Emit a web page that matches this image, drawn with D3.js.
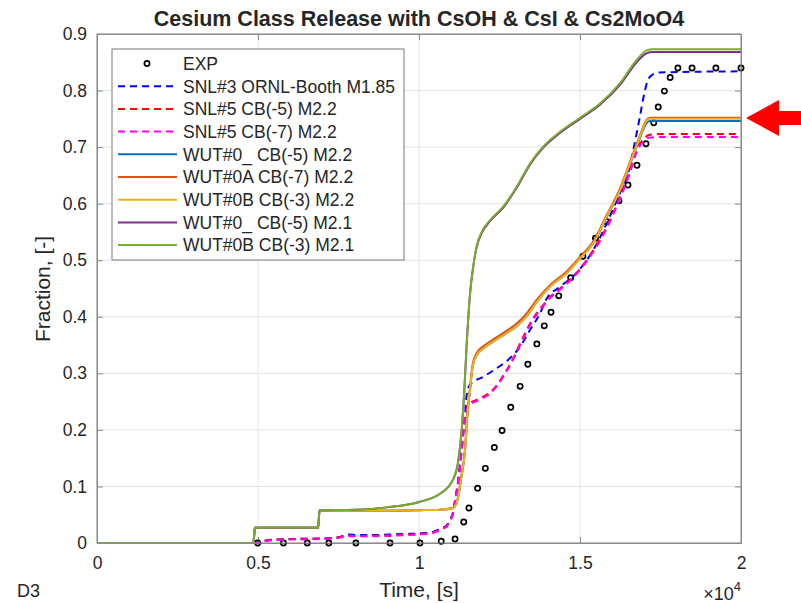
<!DOCTYPE html>
<html><head><meta charset="utf-8">
<script src="https://cdn.jsdelivr.net/npm/d3@7"></script>
<style>body{margin:0;background:#fff}svg{display:block}text{font-family:"Liberation Sans",Arial,Helvetica,sans-serif;fill:#262626}</style>
</head><body>
<svg id="c" width="801" height="603"></svg>
<script>
const titleText = "Cesium Class Release with CsOH & CsI & Cs2MoO4";
const xLabel = "Time, [s]";
const yLabel = "Fraction, [-]";
const xTicks = [0, 5000, 10000, 15000, 20000];
const xTickLabels = ["0", "0.5", "1", "1.5", "2"];
const yTicks = [0, 0.1, 0.2, 0.3, 0.4, 0.5, 0.6, 0.7, 0.8, 0.9];
const yTickLabels = ["0", "0.1", "0.2", "0.3", "0.4", "0.5", "0.6", "0.7", "0.8", "0.9"];
const seriesNames = ["EXP", "SNL#3 ORNL-Booth M1.85", "SNL#5 CB(-5) M2.2", "SNL#5 CB(-7) M2.2",
  "WUT#0_ CB(-5) M2.2", "WUT#0A CB(-7) M2.2", "WUT#0B CB(-3) M2.2", "WUT#0_ CB(-5) M2.1", "WUT#0B CB(-3) M2.1"];

const expTime = [4990, 5790, 6530, 7200, 8040, 9100, 10030, 10690, 11120, 11390, 11550, 11820, 12060, 12340, 12580,
  12850, 13140, 13380, 13660, 13890, 14100, 14340, 14710, 15090, 15480, 15830, 16210, 16490, 16770, 17050, 17290,
  17430, 17620, 17800, 18040, 18480, 19220, 20000];
const expFrac = [0, 0, 0, 0, 0, 0, 0, 0.003, 0.007, 0.037, 0.062, 0.097, 0.132, 0.169, 0.199,
  0.240, 0.277, 0.316, 0.352, 0.384, 0.408, 0.437, 0.469, 0.507, 0.539, 0.568, 0.605, 0.633, 0.668, 0.706, 0.743,
  0.771, 0.799, 0.823, 0.840, 0.840, 0.840, 0.840];

const snl3 = [[0,0],[4950,0],[5200,0.004],[5500,0.006],[6000,0.007],[7000,0.008],[7500,0.010],[7800,0.015],[8100,0.014],[8600,0.014],[9100,0.015],[9600,0.016],[10000,0.017],[10450,0.020],[10650,0.025],[10860,0.031],[10960,0.041],[11065,0.056],[11120,0.076],[11220,0.112],[11325,0.168],[11430,0.228],[11480,0.262],[11584,0.280],[12000,0.294],[12410,0.309],[12830,0.327],[13140,0.347],[13450,0.377],[13760,0.406],[13965,0.432],[14380,0.453],[14900,0.478],[15410,0.518],[15830,0.565],[16250,0.620],[16450,0.645],[16656,0.695],[16860,0.754],[17020,0.801],[17110,0.819],[17250,0.828],[17480,0.832],[20000,0.834]];
const snl5a = [[0,0],[4950,0],[5200,0.004],[5500,0.006],[6000,0.007],[7000,0.008],[7500,0.010],[7800,0.013],[8100,0.012],[8600,0.013],[9100,0.013],[9600,0.015],[10000,0.016],[10450,0.019],[10650,0.024],[10860,0.030],[10960,0.040],[11065,0.055],[11120,0.075],[11220,0.110],[11325,0.165],[11430,0.222],[11532,0.245],[11791,0.253],[12000,0.259],[12205,0.266],[12400,0.278],[12618,0.296],[12929,0.327],[13240,0.365],[13550,0.398],[13860,0.421],[14068,0.435],[14380,0.450],[14900,0.478],[15414,0.518],[15829,0.559],[16242,0.612],[16553,0.659],[16760,0.695],[16966,0.714],[17174,0.722],[17500,0.723],[20000,0.723]];
const snl5b = [[0,0],[4950,0],[5200,0.003],[5500,0.005],[6000,0.006],[7000,0.007],[7500,0.009],[7800,0.012],[8100,0.012],[8600,0.012],[9100,0.013],[9600,0.014],[10000,0.015],[10450,0.018],[10650,0.023],[10860,0.029],[10960,0.039],[11065,0.053],[11120,0.073],[11220,0.108],[11325,0.162],[11430,0.220],[11532,0.243],[11791,0.251],[12000,0.257],[12205,0.264],[12400,0.276],[12618,0.294],[12929,0.325],[13240,0.362],[13550,0.395],[13860,0.419],[14068,0.433],[14380,0.448],[14900,0.476],[15414,0.515],[15829,0.556],[16242,0.609],[16553,0.655],[16760,0.691],[16966,0.710],[17174,0.717],[17500,0.718],[20000,0.718]];
const wut0_22 = [[0,0],[4860,0],[4900,0.027],[6870,0.027],[6910,0.058],[8000,0.057],[9000,0.057],[10000,0.058],[10650,0.059],[11000,0.061],[11100,0.064],[11220,0.082],[11300,0.111],[11430,0.164],[11500,0.223],[11584,0.270],[11667,0.312],[11791,0.332],[12000,0.344],[12308,0.356],[12720,0.371],[13034,0.383],[13345,0.401],[13655,0.426],[14068,0.453],[14586,0.477],[15000,0.503],[15414,0.530],[15829,0.576],[16242,0.623],[16553,0.670],[16863,0.716],[17050,0.741],[17174,0.746],[17400,0.746],[20000,0.746]];
const wut0A_22 = [[0,0],[4860,0],[4900,0.027],[6870,0.027],[6910,0.058],[8000,0.057],[9000,0.057],[10000,0.058],[10650,0.059],[11000,0.061],[11100,0.064],[11220,0.083],[11300,0.113],[11430,0.167],[11500,0.227],[11584,0.274],[11667,0.316],[11791,0.336],[12000,0.348],[12308,0.360],[12720,0.375],[13034,0.388],[13345,0.406],[13655,0.430],[14068,0.456],[14586,0.480],[15000,0.506],[15414,0.533],[15829,0.580],[16242,0.627],[16553,0.674],[16863,0.721],[17050,0.747],[17174,0.752],[17400,0.752],[20000,0.752]];
const wut0B_22 = [[0,0],[4860,0],[4900,0.027],[6870,0.027],[6910,0.058],[8000,0.057],[9000,0.057],[10000,0.058],[10650,0.059],[11000,0.061],[11100,0.064],[11220,0.082],[11300,0.111],[11430,0.164],[11500,0.223],[11584,0.270],[11667,0.312],[11791,0.332],[12000,0.344],[12308,0.356],[12720,0.371],[13034,0.383],[13345,0.401],[13655,0.426],[14068,0.453],[14586,0.477],[15000,0.503],[15414,0.530],[15829,0.577],[16242,0.624],[16553,0.671],[16863,0.718],[17050,0.745],[17174,0.750],[17400,0.750],[20000,0.750]];
const wut0_21 = [[0,0],[4860,0],[4900,0.027],[6870,0.027],[6910,0.058],[8000,0.059],[9000,0.063],[10031,0.073],[10652,0.087],[11065,0.113],[11220,0.145],[11326,0.200],[11407,0.270],[11480,0.350],[11584,0.440],[11687,0.490],[11791,0.523],[11947,0.548],[12205,0.569],[12618,0.593],[13034,0.628],[13447,0.669],[13860,0.699],[14379,0.725],[15000,0.750],[15621,0.775],[16242,0.810],[16760,0.850],[17071,0.866],[17250,0.868],[20000,0.868]];
const wut0B_21 = [[0,0],[4860,0],[4900,0.027],[6870,0.027],[6910,0.058],[8000,0.059],[9000,0.063],[10031,0.073],[10652,0.087],[11065,0.113],[11220,0.145],[11326,0.200],[11407,0.270],[11480,0.350],[11584,0.440],[11687,0.490],[11791,0.525],[11947,0.550],[12205,0.571],[12618,0.595],[13034,0.630],[13447,0.671],[13860,0.701],[14379,0.727],[15000,0.752],[15621,0.777],[16242,0.813],[16760,0.854],[17071,0.871],[17250,0.873],[20000,0.873]];

const lineSeries = [snl3, snl5a, snl5b, wut0_22, wut0A_22, wut0B_22, wut0_21, wut0B_21];
const lineColors = ["#0000ff", "#ff0000", "#ff00ff", "#0072bd", "#d95319", "#edb120", "#7e2f8e", "#77ac30"];
const lineDashed = [true, true, true, false, false, false, false, false];

const svg = d3.select("#c");
const L = 97, R = 741, T = 34, B = 543;
const x = d3.scaleLinear().domain([0, 20000]).range([L, R]);
const y = d3.scaleLinear().domain([0, 0.9]).range([B, T]);

// grid
const g = svg.append("g");
g.selectAll(".gx").data(xTicks).join("line").attr("x1", d => x(d)).attr("x2", d => x(d)).attr("y1", T).attr("y2", B)
  .attr("stroke", "#e3e3e3").attr("stroke-width", 1);
g.selectAll(".gy").data(yTicks).join("line").attr("y1", d => y(d)).attr("y2", d => y(d)).attr("x1", L).attr("x2", R)
  .attr("stroke", "#e3e3e3").attr("stroke-width", 1);

// axes via d3
const axB = svg.append("g").attr("transform", `translate(0,${B})`)
  .call(d3.axisBottom(x).tickValues(xTicks).tickFormat((d, i) => xTickLabels[i]).tickSizeInner(-6).tickSizeOuter(0).tickPadding(14));
const axL = svg.append("g").attr("transform", `translate(${L},0)`)
  .call(d3.axisLeft(y).tickValues(yTicks).tickFormat((d, i) => yTickLabels[i]).tickSizeInner(-6).tickSizeOuter(0).tickPadding(10));
const axT = svg.append("g").attr("transform", `translate(0,${T})`)
  .call(d3.axisTop(x).tickValues(xTicks).tickFormat("").tickSizeInner(-6).tickSizeOuter(0));
const axR = svg.append("g").attr("transform", `translate(${R},0)`)
  .call(d3.axisRight(y).tickValues(yTicks).tickFormat("").tickSizeInner(-6).tickSizeOuter(0));
[axB, axL, axT, axR].forEach(a => {
  a.select(".domain").attr("stroke", "#8a8a8a");
  a.selectAll(".tick line").attr("stroke", "#8a8a8a");
  a.selectAll("text").attr("font-size", 17.5).attr("fill", "#262626").attr("font-family", "Liberation Sans, Arial, sans-serif");
});
axB.selectAll(".tick").filter(d => d === 0 || d === 20000).select("line").remove();
axT.selectAll(".tick").filter(d => d === 0 || d === 20000).select("line").remove();

// lines
const lineGen = d3.line().x(d => x(d[0])).y(d => y(d[1])).curve(d3.curveMonotoneX);
const plot = svg.append("g");
plot.selectAll(".exp").data(expTime.map((t, i) => [t, expFrac[i]])).join("circle")
  .attr("cx", d => x(d[0])).attr("cy", d => y(d[1])).attr("r", 2.6)
  .attr("fill", "none").attr("stroke", "#000").attr("stroke-width", 1.7);
lineSeries.forEach((s, i) => {
  plot.append("path").datum(s).attr("d", lineGen).attr("fill", "none")
    .attr("stroke", lineColors[i]).attr("stroke-width", 2)
    .attr("stroke-dasharray", lineDashed[i] ? "7,5" : null);
});

svg.append("rect").attr("x", L).attr("y", T).attr("width", R - L).attr("height", B - T)
  .attr("fill", "none").attr("stroke", "#8a8a8a").attr("stroke-width", 1);

// legend
const lg = svg.append("g");
const lx = 112, ly = 49, lw = 292, lh = 211, step = 22.7, firstY = 63.5;
lg.append("rect").attr("x", lx).attr("y", ly).attr("width", lw).attr("height", lh)
  .attr("fill", "#fff").attr("stroke", "#7a7a7a").attr("stroke-width", 1);
seriesNames.forEach((name, i) => {
  const yy = firstY + i * step;
  if (i === 0) {
    lg.append("circle").attr("cx", 147).attr("cy", yy).attr("r", 2.6).attr("fill", "none").attr("stroke", "#000").attr("stroke-width", 1.7);
  } else {
    lg.append("line").attr("x1", 118).attr("x2", 177).attr("y1", yy).attr("y2", yy)
      .attr("stroke", lineColors[i - 1]).attr("stroke-width", 2)
      .attr("stroke-dasharray", lineDashed[i - 1] ? "7,5" : null);
  }
  lg.append("text").attr("x", 183).attr("y", yy).attr("dy", "0.36em").attr("font-size", 17.5).text(name);
});

// titles
svg.append("text").attr("x", 419).attr("y", 26).attr("text-anchor", "middle").attr("font-size", 21.5)
  .attr("font-weight", "bold").attr("fill", "#000").text(titleText);
svg.append("text").attr("x", 419).attr("y", 597).attr("text-anchor", "middle").attr("font-size", 21).text(xLabel);
svg.append("text").attr("transform", "translate(50,289) rotate(-90)").attr("text-anchor", "middle").attr("font-size", 21).text(yLabel);
svg.append("text").attr("x", 17).attr("y", 597).attr("font-size", 18).attr("fill", "#000").text("D3");
const mult = svg.append("text").attr("x", 741).attr("y", 600).attr("text-anchor", "end").attr("font-size", 18);
mult.append("tspan").text("\u00d710");
mult.append("tspan").attr("dy", -9).attr("font-size", 13).text("4");

// red arrow
svg.append("path").attr("d", d3.line()([[746, 118], [779, 100], [779, 111], [801, 111], [801, 125], [779, 125], [779, 136]]) + "Z")
  .attr("fill", "#ff0000");
</script>
</body></html>
